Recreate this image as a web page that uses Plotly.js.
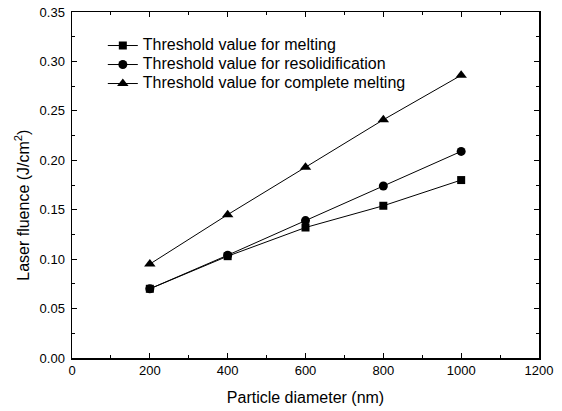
<!DOCTYPE html>
<html>
<head>
<meta charset="utf-8">
<script src="https://cdn.plot.ly/plotly-3.0.1.min.js"></script>
<style>html,body{margin:0;padding:0;background:#fff;}#chart{width:562px;height:411px;}</style>
</head>
<body>
<div id="chart"></div>
<script>
const diameters = [200, 400, 600, 800, 1000];
const meltingValues = [0.070, 0.103, 0.132, 0.154, 0.180];
const resolidificationValues = [0.070, 0.104, 0.139, 0.174, 0.209];
const completeMeltingValues = [0.095, 0.145, 0.193, 0.241, 0.286];
const seriesNames = ["Threshold value for melting", "Threshold value for resolidification", "Threshold value for complete melting"];
const xTitle = "Particle diameter (nm)";
const yTitle = "Laser fluence (J/cm<sup>2</sup>)";

const font = "Liberation Sans, Arial, sans-serif";
function trace(y, name, symbol, size) {
  return {
    x: diameters, y: y, name: '<span style="font-size:16px">' + name + '</span>',
    type: 'scatter', mode: 'lines+markers',
    line: {color: '#000', width: 1},
    marker: {symbol: symbol, size: size, color: '#000'}
  };
}
const data = [
  trace(meltingValues, seriesNames[0], 'square', 8),
  trace(resolidificationValues, seriesNames[1], 'circle', 9),
  trace(completeMeltingValues, seriesNames[2], 'triangle-up', 10)
];
const axisCommon = {
  showline: true, linecolor: '#000', linewidth: 1.5, mirror: 'ticks',
  ticks: 'inside', ticklen: 5, tickwidth: 1, tickcolor: '#000',
  showgrid: false, zeroline: false,
  tickfont: {family: font, size: 13, color: '#000'}
};
const layout = {
  width: 562, height: 411,
  margin: {l: 72, r: 23, t: 12, b: 53},
  paper_bgcolor: '#fff', plot_bgcolor: '#fff',
  showlegend: true,
  legend: {x: 0.066, y: 0.945, xanchor: 'left', yanchor: 'top', bgcolor: 'rgba(0,0,0,0)',
    font: {family: font, size: 12, color: '#000'}, tracegroupgap: 0, itemwidth: 30},
  xaxis: Object.assign({}, axisCommon, {
    range: [0, 1200], dtick: 200, tick0: 0,
    minor: {ticks: 'inside', dtick: 100, ticklen: 3, tickcolor: '#000', tickwidth: 1},
    title: {text: xTitle, font: {family: font, size: 16, color: '#000'}, standoff: 14}
  }),
  yaxis: Object.assign({}, axisCommon, {
    range: [0, 0.35], dtick: 0.05, tick0: 0, tickformat: '.2f', ticklabelstandoff: 3,
    minor: {ticks: 'inside', dtick: 0.025, ticklen: 3, tickcolor: '#000', tickwidth: 1}
  }),
  annotations: [{
    text: yTitle, textangle: -90, xref: 'paper', yref: 'paper',
    x: 0, y: 0.44, xanchor: 'center', yanchor: 'middle', xshift: -50, showarrow: false,
    font: {family: font, size: 16, color: '#000'}
  }]
};
Plotly.newPlot('chart', data, layout, {displayModeBar: false, staticPlot: true});
</script>
</body>
</html>
